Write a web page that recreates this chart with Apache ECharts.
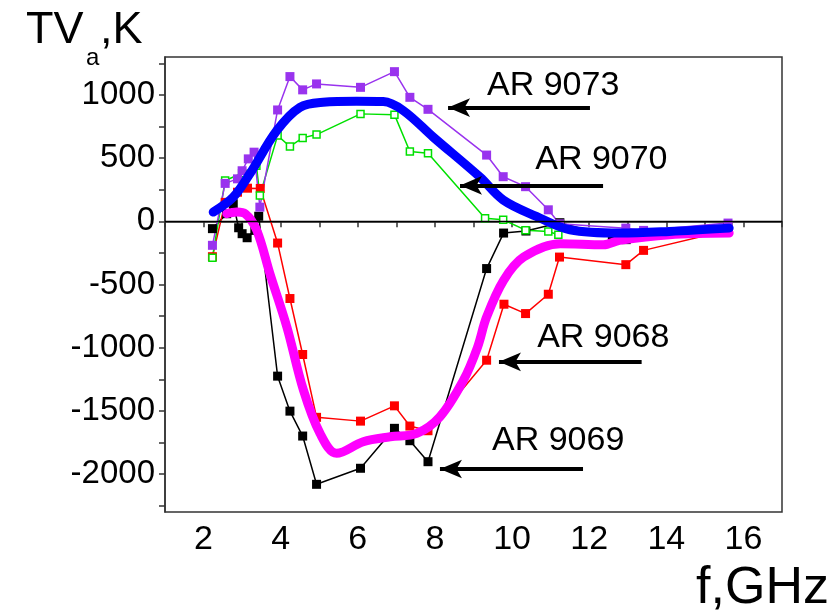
<!DOCTYPE html>
<html>
<head>
<meta charset="utf-8">
<script src="https://cdn.jsdelivr.net/npm/echarts@6/dist/echarts.min.js"></script>
<style>html,body{margin:0;padding:0;background:#fff}#c{width:839px;height:616px}</style>
</head>
<body>
<div id="c"></div>
<script>
// ---- data (f in GHz, TVa in K) ----
const f9073 = [2.23, 2.56, 2.88, 3.0, 3.16, 3.31, 3.46, 3.92, 4.24, 4.57, 4.93, 6.07, 6.95, 7.35, 7.82, 9.34, 9.77, 10.35, 10.94, 11.23, 12.95, 13.41, 15.6];
const tv9073 = [-190, 300, 336, 400, 494, 547, 112, 881, 1145, 1040, 1087, 1060, 1184, 981, 886, 524, 353, 274, 91, -20, -54, -72, -14];

const f9070 = [2.23, 2.56, 3.0, 3.37, 3.46, 3.92, 4.24, 4.57, 4.93, 6.07, 6.95, 7.35, 7.82, 9.3, 9.77, 10.35, 10.94, 11.2];
const tv9070 = [-288, 323, 380, 440, 204, 678, 592, 660, 686, 850, 844, 552, 539, 25, 12, -70, -80, -107];

const f9068 = [2.23, 2.56, 2.88, 3.14, 3.47, 3.92, 4.24, 4.57, 4.93, 6.07, 6.95, 7.35, 7.82, 9.34, 9.79, 10.35, 10.94, 11.23, 12.95, 13.41, 15.6];
const tv9068 = [-280, 150, 230, 262, 260, -172, -611, -1054, -1551, -1581, -1460, -1620, -1657, -1099, -656, -730, -577, -283, -343, -230, -70];

const f9069 = [2.23, 2.6, 2.77, 2.91, 3.0, 3.13, 3.33, 3.43, 3.92, 4.24, 4.57, 4.93, 6.07, 6.95, 7.35, 7.82, 9.34, 9.78, 10.36, 11.24, 12.6, 12.96, 15.6];
const tv9069 = [-58, 60, 139, -51, -98, -130, -72, 40, -1225, -1502, -1699, -2081, -1954, -1638, -1736, -1902, -374, -93, -77, -11, -125, -145, -50];

const fFitBlue = [2.25, 2.77, 3.2, 3.9, 4.5, 5.1, 5.97, 6.66, 7.18, 7.96, 9.17, 9.77, 10.63, 11.5, 12.79, 14.08, 15.63];
const tvFitBlue = [73, 191, 376, 718, 902, 942, 950, 947, 876, 665, 349, 169, 39, -67, -93, -80, -54];

const fFitMagenta = [2.6, 2.86, 3.08, 3.38, 3.72, 4.16, 4.59, 5.02, 5.45, 6.14, 6.84, 7.53, 8.13, 8.74, 9.1, 9.34, 9.78, 10.3, 11.25, 12.37, 12.79, 14.08, 15.63];
const tvFitMagenta = [60, 73, 60, -72, -414, -836, -1336, -1678, -1836, -1744, -1705, -1678, -1546, -1257, -1000, -757, -467, -283, -177, -185, -150, -106, -93];

// axis ticks and labels
const xTicks = [1, 2, 3, 4, 5, 6, 7, 8, 9, 10, 11, 12, 13, 14, 15, 16, 17];
const xTickLabels = [2, 4, 6, 8, 10, 12, 14, 16];
const yTicks = [-2250, -2000, -1750, -1500, -1250, -1000, -750, -500, -250, 0, 250, 500, 750, 1000, 1250];
const yTickLabels = [-2000, -1500, -1000, -500, 0, 500, 1000];

// annotations: label, text anchor [f, TV], arrow tail, arrow tip
const annLabels = ['AR 9073', 'AR 9070', 'AR 9068', 'AR 9069'];
const annText = [[9.35, 1073], [10.6, 489], [10.65, -924], [9.48, -1738]];
const annTail = [[12.02, 900], [12.36, 284], [13.36, -1112], [11.84, -1960]];
const annTip = [[8.34, 900], [8.65, 284], [9.66, -1112], [8.13, -1960]];

const pairs = (xs, ys) => xs.map((x, i) => [x, ys[i]]);
const FONT = '"Liberation Sans", Arial, sans-serif';

const chart = echarts.init(document.getElementById('c'), null, {renderer: 'canvas'});

const thin = (name, xs, ys, color, hollow) => ({
  name, type: 'line', data: pairs(xs, ys), symbol: 'rect',
  symbolSize: hollow ? 7 : 9, showSymbol: true, z: 2,
  lineStyle: {width: 1.5, color},
  itemStyle: hollow ? {color: '#ffffff', borderColor: color, borderWidth: 1.5} : {color}
});

const arrowLines = annTail.map((t, i) => [
  {coord: t, symbol: 'none'},
  {coord: annTip[i], symbol: 'arrow', symbolSize: [14, 22]}
]);

chart.setOption({
  animation: false,
  backgroundColor: '#ffffff',
  grid: {left: 165, right: 57, top: 57, bottom: 104, show: true, borderColor: '#333', borderWidth: 1.5, backgroundColor: 'transparent'},
  xAxis: {
    type: 'value', min: 1, max: 17,
    axisLine: {show: true, lineStyle: {color: '#333', width: 1.5}},
    axisTick: {show: true, inside: false, length: 6, customValues: xTicks, lineStyle: {color: '#333', width: 1.5}},
    axisLabel: {customValues: xTickLabels, color: '#000', fontSize: 34, fontFamily: FONT, margin: 11, formatter: v => String(v)},
    splitLine: {show: false}
  },
  yAxis: {
    type: 'value', min: -2300, max: 1300,
    axisLine: {show: true, lineStyle: {color: '#333', width: 1.5}},
    axisTick: {show: true, inside: false, length: 6, customValues: yTicks, lineStyle: {color: '#333', width: 1.5}},
    axisLabel: {customValues: yTickLabels, color: '#000', fontSize: 33, fontFamily: FONT, margin: 10, formatter: v => String(v)},
    splitLine: {show: false}
  },
  series: [
    Object.assign(thin('AR 9069', f9069, tv9069, '#000000', false), {
      markLine: {
        silent: true, symbol: 'none', animation: false,
        label: {show: false},
        data: [
          [{coord: [1, 0], symbol: 'none', lineStyle: {color: '#000', width: 1.3, type: 'solid'}}, {coord: [17, 0], symbol: 'none'}]
        ].concat(arrowLines.map(a => [Object.assign({lineStyle: {color: '#000', width: 4, type: 'solid'}}, a[0]), a[1]]))
      }
    }),
    thin('AR 9068', f9068, tv9068, '#ff0000', false),
    thin('AR 9070', f9070, tv9070, '#00e000', true),
    thin('AR 9073', f9073, tv9073, '#9933ee', false),
    {type: 'line', data: pairs(fFitMagenta, tvFitMagenta), smooth: 0.35, showSymbol: false, z: 3,
     lineStyle: {width: 9, color: '#ff00ff', cap: 'round', join: 'round'}},
    {type: 'line', data: pairs(fFitBlue, tvFitBlue), smooth: 0.35, showSymbol: false, z: 4,
     lineStyle: {width: 9, color: '#0000ff', cap: 'round', join: 'round'}}
  ]
});

const annGraphics = annLabels.map((txt, i) => {
  const p = chart.convertToPixel({gridIndex: 0}, annText[i]);
  return {type: 'text', x: p[0], y: p[1], z: 10,
    style: {text: txt, font: '34px ' + FONT, fill: '#000', textAlign: 'left', textVerticalAlign: 'middle', verticalAlign: 'middle'}};
});

chart.setOption({
  graphic: annGraphics.concat([
    {type: 'text', left: 26, top: 8, style: {text: 'TV', font: '45px ' + FONT, fill: '#000'}},
    {type: 'text', left: 86, top: 46, style: {text: 'a', font: '24px ' + FONT, fill: '#000'}},
    {type: 'text', left: 100, top: 8, style: {text: ',K', font: '45px ' + FONT, fill: '#000'}},
    {type: 'text', right: 10, bottom: 1, style: {text: 'f,GHz', font: '52px ' + FONT, fill: '#000'}}
  ])
});
</script>
</body>
</html>
